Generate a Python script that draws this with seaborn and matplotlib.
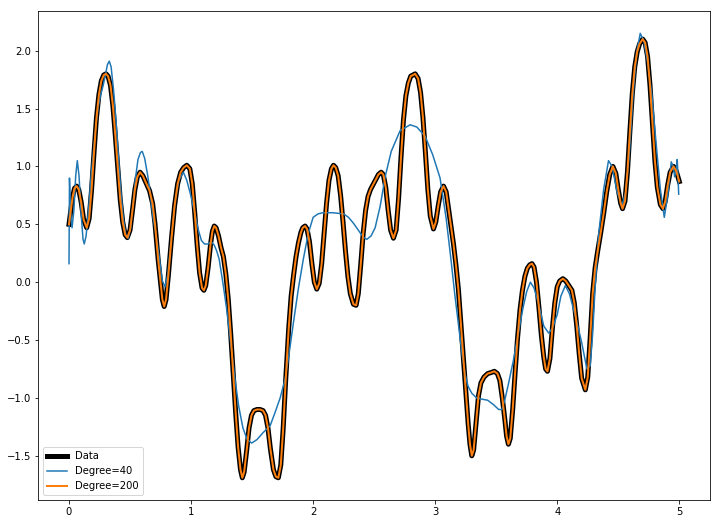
import seaborn as sns
import pandas as pd
import matplotlib.pyplot as plt


# values
data_x = [0.000, 0.015, 0.030, 0.045, 0.063, 0.080, 0.100, 0.120, 0.145, 0.165,
          0.185, 0.205, 0.225, 0.245, 0.265, 0.285, 0.303, 0.320, 0.340, 0.360,
          0.380, 0.400, 0.420, 0.440, 0.460, 0.478, 0.500, 0.520, 0.540, 0.560,
          0.582, 0.605, 0.630, 0.660, 0.685, 0.705, 0.730, 0.750, 0.765, 0.780,
          0.795, 0.815, 0.840, 0.865, 0.890, 0.915, 0.940, 0.965, 0.990, 1.010,
          1.030, 1.050, 1.070, 1.090, 1.105, 1.120, 1.140, 1.160, 1.175, 1.190,
          1.205, 1.225, 1.245, 1.265, 1.285, 1.305, 1.325, 1.345, 1.365, 1.385,
          1.405, 1.420, 1.435, 1.455, 1.475, 1.495, 1.515, 1.540, 1.565, 1.590,
          1.610, 1.630, 1.650, 1.675, 1.695, 1.715, 1.735, 1.755, 1.775, 1.800,
          1.820, 1.840, 1.860, 1.880, 1.900, 1.915, 1.934, 1.950, 1.970, 1.990,
          2.010, 2.030, 2.050, 2.070, 2.090, 2.110, 2.130, 2.150, 2.167, 2.185,
          2.205, 2.225, 2.245, 2.265, 2.285, 2.305, 2.330, 2.352, 2.370, 2.390,
          2.410, 2.430, 2.450, 2.470, 2.490, 2.510, 2.535, 2.557, 2.575, 2.595,
          2.615, 2.635, 2.658, 2.680, 2.700, 2.720, 2.740, 2.760, 2.780, 2.800,
          2.836, 2.860, 2.880, 2.900, 2.920, 2.940, 2.960, 2.986, 3.005, 3.025,
          3.045, 3.068, 3.090, 3.110, 3.130, 3.150, 3.170, 3.190, 3.210, 3.230,
          3.250, 3.270, 3.285, 3.300, 3.315, 3.335, 3.355, 3.375, 3.400, 3.430,
          3.460, 3.485, 3.510, 3.530, 3.550, 3.570, 3.585, 3.600, 3.615, 3.635,
          3.655, 3.675, 3.695, 3.715, 3.735, 3.755, 3.775, 3.793, 3.810, 3.830,
          3.850, 3.870, 3.890, 3.905, 3.920, 3.940, 3.960, 3.980, 4.000, 4.020,
          4.046, 4.070, 4.095, 4.120, 4.140, 4.160, 4.180, 4.200, 4.230, 4.250,
          4.270, 4.290, 4.310, 4.330, 4.355, 4.380, 4.405, 4.430, 4.456, 4.480,
          4.500, 4.520, 4.535, 4.555, 4.575, 4.595, 4.615, 4.635, 4.655, 4.675,
          4.700, 4.720, 4.740, 4.760, 4.780, 4.800, 4.820, 4.845, 4.866, 4.885,
          4.905, 4.925, 4.953, 4.975, 5.000]
data_y = [0.50, 0.62, 0.74, 0.81, 0.83, 0.80, 0.69, 0.54, 0.47, 0.55,
          0.80, 1.12, 1.42, 1.62, 1.74, 1.79, 1.80, 1.78, 1.70, 1.52,
          1.26, 0.98, 0.71, 0.52, 0.41, 0.385, 0.45, 0.62, 0.80, 0.91,
          0.95, 0.92, 0.86, 0.79, 0.68, 0.50, 0.20, 0.00, -0.15, -0.21,
          -0.15, 0.07, 0.38, 0.66, 0.85, 0.95, 0.99, 1.01, 0.98, 0.85,
          0.60, 0.32, 0.08, -0.05, -0.07, -0.03, 0.13, 0.33, 0.44, 0.485,
          0.47, 0.40, 0.30, 0.22, 0.07, -0.15, -0.45, -0.78, -1.12, -1.42,
          -1.62, -1.69, -1.64, -1.46, -1.26, -1.15, -1.11, -1.10, -1.10, -1.11,
          -1.15, -1.26, -1.44, -1.62, -1.68, -1.69, -1.58, -1.26, -0.85, -0.40,
          -0.12, 0.06, 0.22, 0.34, 0.43, 0.47, 0.485, 0.46, 0.35, 0.16,
          0.00, -0.06, -0.01, 0.16, 0.42, 0.68, 0.88, 0.98, 1.01, 0.99,
          0.92, 0.75, 0.52, 0.27, 0.05, -0.10, -0.19, -0.20, -0.10, 0.15,
          0.42, 0.62, 0.74, 0.80, 0.84, 0.88, 0.93, 0.95, 0.93, 0.82,
          0.62, 0.45, 0.38, 0.45, 0.72, 1.08, 1.40, 1.61, 1.72, 1.78,
          1.80, 1.76, 1.64, 1.42, 1.12, 0.80, 0.57, 0.46, 0.52, 0.66,
          0.78, 0.83, 0.78, 0.63, 0.48, 0.33, 0.15, -0.06, -0.35, -0.63,
          -0.93, -1.22, -1.40, -1.50, -1.45, -1.22, -0.98, -0.87, -0.82, -0.79,
          -0.78, -0.77, -0.79, -0.85, -1.00, -1.18, -1.33, -1.40, -1.35, -1.10,
          -0.78, -0.48, -0.24, -0.07, 0.05, 0.12, 0.15, 0.16, 0.13, 0.00,
          -0.22, -0.46, -0.65, -0.75, -0.77, -0.66, -0.40, -0.18, -0.04, 0.01,
          0.03, 0.01, -0.03, -0.07, -0.18, -0.38, -0.62, -0.83, -0.93, -0.82,
          -0.48, -0.10, 0.12, 0.26, 0.42, 0.59, 0.78, 0.93, 1.00, 0.94,
          0.80, 0.68, 0.635, 0.70, 0.95, 1.30, 1.63, 1.86, 1.99, 2.06,
          2.10, 2.07, 1.95, 1.70, 1.37, 1.05, 0.82, 0.67, 0.635, 0.70,
          0.84, 0.95, 1.00, 0.96, 0.87]

# the degree 200 fit sits on top of the data everywhere
deg200_x = data_x
deg200_y = data_y

deg40_x = [0.000, 0.004, 0.012, 0.025, 0.040, 0.055, 0.068, 0.082, 0.100, 0.115,
           0.125, 0.140, 0.160, 0.180, 0.200, 0.220, 0.240, 0.260, 0.280, 0.300,
           0.315, 0.330, 0.345, 0.365, 0.385, 0.405, 0.425, 0.445, 0.465, 0.485,
           0.505, 0.525, 0.545, 0.565, 0.585, 0.600, 0.620, 0.645, 0.665, 0.690,
           0.720, 0.745, 0.765, 0.787, 0.810, 0.840, 0.870, 0.900, 0.937, 0.965,
           0.995, 1.030, 1.060, 1.085, 1.110, 1.140, 1.165, 1.190, 1.210, 1.230,
           1.260, 1.290, 1.320, 1.355, 1.390, 1.425, 1.460, 1.497, 1.540, 1.590,
           1.648, 1.690, 1.730, 1.770, 1.800, 1.840, 1.880, 1.920, 1.960, 2.000,
           2.040, 2.080, 2.160, 2.250, 2.290, 2.330, 2.370, 2.410, 2.440, 2.475,
           2.508, 2.550, 2.590, 2.640, 2.713, 2.795, 2.850, 2.918, 2.980, 3.040,
           3.090, 3.130, 3.160, 3.190, 3.220, 3.246, 3.270, 3.300, 3.340, 3.380,
           3.430, 3.480, 3.520, 3.546, 3.570, 3.600, 3.640, 3.680, 3.720, 3.750,
           3.780, 3.810, 3.850, 3.890, 3.930, 3.960, 4.000, 4.030, 4.066, 4.100,
           4.130, 4.160, 4.200, 4.243, 4.270, 4.290, 4.310, 4.340, 4.380, 4.420,
           4.450, 4.490, 4.530, 4.560, 4.590, 4.620, 4.650, 4.680, 4.710, 4.740,
           4.775, 4.810, 4.845, 4.877, 4.905, 4.934, 4.950, 4.962, 4.975, 4.983,
           4.990, 4.995]
deg40_y = [0.16, 0.90, 0.62, 0.47, 0.62, 0.92, 1.05, 0.92, 0.58, 0.37,
           0.33, 0.40, 0.62, 0.90, 1.12, 1.35, 1.52, 1.62, 1.70, 1.80,
           1.88, 1.91, 1.86, 1.66, 1.40, 1.08, 0.78, 0.55, 0.41, 0.38,
           0.47, 0.68, 0.90, 1.06, 1.12, 1.13, 1.07, 0.92, 0.77, 0.55,
           0.36, 0.17, 0.01, -0.04, 0.07, 0.40, 0.70, 0.88, 0.95, 0.88,
           0.76, 0.60, 0.45, 0.36, 0.33, 0.33, 0.35, 0.32, 0.27, 0.20,
           0.00, -0.22, -0.48, -0.80, -1.07, -1.26, -1.36, -1.39, -1.36, -1.30,
           -1.24, -1.12, -1.00, -0.84, -0.64, -0.34, -0.05, 0.20, 0.42, 0.56,
           0.59, 0.60, 0.60, 0.59, 0.56, 0.51, 0.45, 0.39, 0.37, 0.40,
           0.47, 0.66, 0.91, 1.13, 1.31, 1.36, 1.34, 1.26, 1.10, 0.90,
           0.55, 0.19, -0.10, -0.36, -0.62, -0.80, -0.90, -0.96, -1.00, -1.01,
           -1.02, -1.06, -1.10, -1.10, -1.02, -0.88, -0.68, -0.45, -0.22, -0.08,
           0.00, -0.05, -0.20, -0.38, -0.44, -0.40, -0.28, -0.12, -0.03, -0.10,
           -0.22, -0.34, -0.52, -0.75, -0.72, -0.45, -0.05, 0.42, 0.80, 1.05,
           1.00, 0.78, 0.66, 0.78, 1.10, 1.60, 1.98, 2.15, 2.08, 1.90,
           1.62, 1.20, 0.80, 0.56, 0.75, 1.04, 1.00, 0.91, 0.98, 1.06,
           0.90, 0.76]

df_data = pd.DataFrame({'x': data_x, 'y': data_y})
df_40 = pd.DataFrame({'x': deg40_x, 'y': deg40_y})
df_200 = pd.DataFrame({'x': deg200_x, 'y': deg200_y})

# reference was saved at 72 dpi, so 1pt == 1px
fig = plt.figure(figsize=(718 / 72, 524 / 72), dpi=72)
ax = fig.add_axes([0.0536, 0.0458, 0.935, 0.933])

sns.lineplot(data=df_data, x='x', y='y', ax=ax, color='black', linewidth=5,
             estimator=None, sort=False, label='Data')
sns.lineplot(data=df_40, x='x', y='y', ax=ax, color='#1f77b4', linewidth=1.5,
             estimator=None, sort=False, label='Degree=40')
sns.lineplot(data=df_200, x='x', y='y', ax=ax, color='#ff7f0e', linewidth=2,
             estimator=None, sort=False, label='Degree=200')

ax.set_xlabel('')
ax.set_ylabel('')
ax.set_xticks([0, 1, 2, 3, 4, 5])
ax.set_yticks([-1.5, -1.0, -0.5, 0.0, 0.5, 1.0, 1.5, 2.0])
ax.legend(loc='lower left')

fig.savefig('out.png', dpi=72)
